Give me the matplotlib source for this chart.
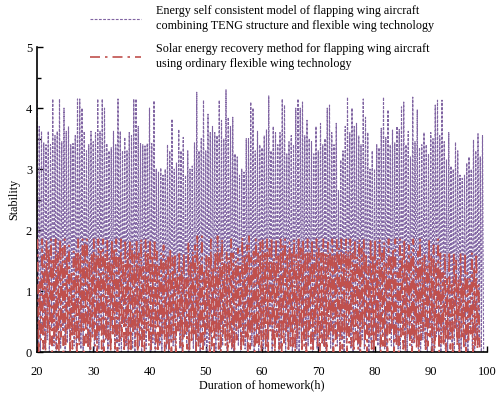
import numpy as np
import matplotlib
matplotlib.use("Agg")
import matplotlib.pyplot as plt
from matplotlib.ticker import MultipleLocator

plt.rcParams['font.family'] = ['Liberation Serif', 'DejaVu Serif']

# peak / trough values of each series, one pair every 0.4 h starting at 20 h
teng_start = 20.0
teng_peaks = [
    4.13, 3.70, 3.62, 3.43, 3.40, 3.62, 3.40, 4.15, 3.55, 3.62,
    4.15, 3.45, 4.00, 3.62, 3.70, 3.40, 3.42, 3.55, 4.15, 4.15,
    4.00, 3.62, 3.30, 3.40, 3.62, 3.45, 3.60, 4.15, 3.62, 4.15,
    4.00, 3.42, 3.30, 3.35, 3.62, 3.40, 4.15, 3.62, 3.30, 3.52,
    3.30, 3.60, 3.55, 4.15, 4.15, 3.70, 3.42, 3.40, 3.38, 3.42,
    4.00, 3.42, 4.12, 3.00, 2.95, 3.02, 2.90, 3.00, 3.40, 3.30,
    3.82, 3.00, 3.10, 3.65, 3.30, 3.52, 2.90, 3.30, 3.00, 3.05,
    3.43, 4.26, 3.30, 3.50, 4.13, 3.30, 3.90, 3.60, 3.70, 3.60,
    3.55, 4.13, 3.80, 3.50, 4.30, 3.85, 3.70, 3.85, 3.25, 3.20,
    2.90, 3.00, 2.95, 3.50, 3.50, 4.10, 4.00, 3.30, 3.62, 3.40,
    3.35, 3.55, 3.65, 4.20, 3.30, 3.70, 3.60, 3.40, 3.60, 4.15,
    4.05, 3.25, 3.45, 3.55, 3.40, 4.00, 4.15, 4.00, 4.10, 3.55,
    3.80, 3.50, 3.45, 3.25, 3.70, 3.30, 3.75, 3.40, 3.50, 4.00,
    4.05, 3.60, 3.40, 3.75, 2.65, 3.15, 3.30, 3.70, 4.18, 3.60,
    4.00, 3.70, 3.75, 3.55, 3.40, 4.15, 3.85, 3.60, 3.00, 3.30,
    3.00, 3.40, 3.35, 3.67, 4.18, 3.52, 3.97, 3.40, 3.64, 3.43,
    3.70, 3.65, 4.02, 4.10, 3.40, 3.62, 3.20, 4.18, 3.45, 3.97,
    3.35, 3.40, 3.60, 3.40, 3.25, 3.60, 3.50, 4.05, 4.13, 3.55,
    4.13, 3.45, 3.15, 3.60, 3.05, 3.00, 3.44, 3.30, 2.90, 2.85,
    2.90, 3.10, 3.20, 3.00, 3.48, 3.30, 3.58, 3.20, 3.55,
]
teng_lows = [
    0.10, 0.00, 0.30, 0.05, 0.20, 0.00, 0.40, 0.10, 0.00, 0.25,
    0.05, 0.35, 0.00, 0.15, 0.00, 0.30, 0.10, 0.00, 0.20, 0.05,
    0.00, 0.40, 0.10, 0.00, 0.25, 0.00, 0.15, 0.05, 0.35, 0.00,
    0.20, 0.00, 0.10, 0.30, 0.00, 0.15, 0.05, 0.00, 0.40, 0.10,
    0.00, 0.25, 0.05, 0.00, 0.30, 0.10, 0.00, 0.20, 0.05, 0.35,
    0.00, 0.15, 0.00, 0.45, 0.10, 0.00, 0.30, 0.05, 0.00, 0.20,
    0.10, 0.00, 0.35, 0.05, 0.00, 0.25, 0.10, 0.00, 0.40, 0.05,
    0.00, 0.20, 0.00, 0.30, 0.10, 0.00, 0.15, 0.05, 0.35, 0.00,
    0.20, 0.00, 0.10, 0.40, 0.00, 0.15, 0.05, 0.00, 0.30, 0.10,
    0.00, 0.25, 0.05, 0.00, 0.35, 0.10, 0.00, 0.20, 0.00, 0.30,
    0.05, 0.00, 0.15, 0.40, 0.00, 0.10, 0.25, 0.00, 0.05, 0.30,
    0.00, 0.20, 0.10, 0.00, 0.35, 0.05, 0.00, 0.15, 0.30, 0.00,
    0.10, 0.40, 0.00, 0.20, 0.05, 0.00, 0.30, 0.10, 0.00, 0.25,
    0.05, 0.00, 0.35, 0.10, 0.00, 0.20, 0.00, 0.15, 0.40, 0.05,
    0.00, 0.30, 0.10, 0.00, 0.20, 0.05, 0.35, 0.00, 0.15, 0.00,
    0.25, 0.10, 0.00, 0.30, 0.05, 0.00, 0.40, 0.10, 0.00, 0.20,
    0.05, 0.00, 0.35, 0.10, 0.00, 0.25, 0.00, 0.15, 0.30, 0.05,
    0.00, 0.20, 0.10, 0.00, 0.40, 0.05, 0.00, 0.25, 0.10, 0.00,
    0.30, 0.05, 0.00, 0.20, 0.15, 0.00, 0.35, 0.05, 0.00, 0.25,
    0.10, 0.00, 0.30, 0.05, 0.00, 0.20, 0.10, 0.00, 0.00,
]

solar_start = 20.1
solar_peaks = [
    1.85, 1.15, 1.85, 1.60, 1.85, 1.70, 1.85, 1.55, 1.85, 1.62,
    1.85, 1.70, 1.85, 1.60, 1.75, 1.30, 1.65, 1.65, 1.85, 1.62,
    1.85, 1.80, 1.85, 1.50, 1.62, 1.85, 1.60, 1.85, 1.70, 1.85,
    1.62, 1.85, 1.55, 1.85, 1.70, 1.85, 1.60, 1.85, 1.50, 1.85,
    1.62, 1.85, 1.75, 1.60, 1.85, 1.62, 1.85, 1.40, 1.85, 1.65,
    1.85, 1.60, 1.85, 1.65, 1.40, 1.62, 1.75, 1.50, 1.60, 1.70,
    1.55, 1.62, 1.30, 1.65, 1.40, 1.62, 1.20, 1.80, 1.50, 1.65,
    1.75, 1.90, 1.50, 1.90, 1.35, 1.60, 1.55, 1.85, 1.40, 1.65,
    1.90, 1.62, 1.85, 1.45, 1.65, 1.55, 1.85, 1.62, 1.50, 1.70,
    1.40, 1.88, 1.60, 1.75, 1.90, 1.55, 1.65, 1.85, 1.62, 1.80,
    1.85, 1.62, 1.85, 1.70, 1.88, 1.55, 1.85, 1.62, 1.85, 1.75,
    1.85, 1.62, 1.80, 1.65, 1.85, 1.60, 1.88, 1.70, 1.85, 1.65,
    1.85, 1.62, 1.85, 1.55, 1.85, 1.70, 1.62, 1.85, 1.60, 1.80,
    1.65, 1.85, 1.62, 1.85, 1.70, 1.85, 1.60, 1.85, 1.65, 1.85,
    1.62, 1.85, 1.55, 1.85, 1.70, 1.85, 1.62, 1.40, 1.85, 1.60,
    1.85, 1.50, 1.85, 1.62, 1.80, 1.45, 1.85, 1.60, 1.70, 1.85,
    1.30, 1.85, 1.62, 1.85, 1.50, 1.75, 1.62, 1.85, 1.40, 1.65,
    1.85, 1.55, 1.62, 1.40, 1.85, 1.60, 1.75, 1.45, 1.85, 1.62,
    1.30, 1.62, 1.20, 1.65, 1.10, 1.62, 1.50, 1.20, 1.62, 1.15,
    1.62, 1.30, 1.20, 1.62, 1.40, 1.62, 1.10,
]
solar_lows = [
    0.00, 0.20, 0.05, 0.00, 0.30, 0.10, 0.00, 0.15, 0.05, 0.00,
    0.25, 0.00, 0.10, 0.35, 0.00, 0.05, 0.20, 0.00, 0.10, 0.30,
    0.00, 0.15, 0.05, 0.00, 0.25, 0.10, 0.00, 0.35, 0.05, 0.00,
    0.20, 0.10, 0.00, 0.30, 0.05, 0.00, 0.15, 0.25, 0.00, 0.10,
    0.05, 0.00, 0.30, 0.10, 0.00, 0.20, 0.05, 0.00, 0.35, 0.10,
    0.00, 0.25, 0.05, 0.00, 0.15, 0.30, 0.00, 0.10, 0.05, 0.00,
    0.20, 0.00, 0.35, 0.10, 0.00, 0.25, 0.05, 0.00, 0.15, 0.30,
    0.00, 0.10, 0.05, 0.00, 0.20, 0.35, 0.00, 0.10, 0.00, 0.25,
    0.05, 0.00, 0.30, 0.10, 0.00, 0.15, 0.05, 0.00, 0.20, 0.35,
    0.00, 0.10, 0.25, 0.00, 0.05, 0.30, 0.00, 0.15, 0.10, 0.00,
    0.20, 0.05, 0.00, 0.35, 0.10, 0.00, 0.25, 0.05, 0.00, 0.15,
    0.30, 0.00, 0.10, 0.05, 0.00, 0.20, 0.35, 0.00, 0.10, 0.00,
    0.25, 0.05, 0.00, 0.30, 0.10, 0.00, 0.15, 0.05, 0.00, 0.20,
    0.35, 0.00, 0.10, 0.25, 0.00, 0.05, 0.30, 0.00, 0.15, 0.10,
    0.00, 0.20, 0.05, 0.00, 0.35, 0.10, 0.00, 0.25, 0.05, 0.00,
    0.15, 0.30, 0.00, 0.10, 0.05, 0.00, 0.20, 0.35, 0.00, 0.10,
    0.00, 0.25, 0.05, 0.00, 0.30, 0.10, 0.00, 0.15, 0.05, 0.00,
    0.20, 0.35, 0.00, 0.10, 0.25, 0.00, 0.05, 0.30, 0.00, 0.15,
    0.10, 0.00, 0.20, 0.05, 0.00, 0.35, 0.10, 0.00, 0.25, 0.05,
    0.00, 0.15, 0.30, 0.00, 0.10, 0.05, 0.00,
]
step = 0.4

label_teng = ("Energy self consistent model of flapping wing aircraft\n"
              "combining TENG structure and flexible wing technology")
label_solar = ("Solar energy recovery method for flapping wing aircraft\n"
               "using ordinary flexible wing technology")


def zigzag(start, peaks, lows):
    xs, ys = [], []
    for i, (p, q) in enumerate(zip(peaks, lows)):
        xs += [start + i * step, start + i * step + step / 2]
        ys += [p, q]
    return xs, ys


tx, ty = zigzag(teng_start, teng_peaks, teng_lows)
sx, sy = zigzag(solar_start, solar_peaks, solar_lows)

fig = plt.figure(figsize=(5.0, 3.96), dpi=100)
ax = fig.add_axes([0.074, 0.111, 0.9, 0.77])

l1, = ax.plot(tx, ty, color='#8064a2', lw=0.8, linestyle=(0, (2.5, 1.3)),
              zorder=2)
l2, = ax.plot(sx, sy, color='#c0504d', lw=1.2, linestyle=(0, (6, 3, 1.5, 3)),
              zorder=3)

ax.set_xlim(20, 100)
ax.set_ylim(0, 5)
ax.xaxis.set_major_locator(MultipleLocator(10))
ax.yaxis.set_major_locator(MultipleLocator(1))
ax.yaxis.set_minor_locator(MultipleLocator(0.5))
ax.tick_params(direction='in', labelsize=9, length=4, width=1)
ax.tick_params(which='minor', direction='in', length=3, width=1)
ax.tick_params(axis='x', pad=10)
for s in ['top', 'right']:
    ax.spines[s].set_visible(False)
for s in ['left', 'bottom']:
    ax.spines[s].set_linewidth(1.2)

ax.set_xlabel('Duration of homework(h)', fontsize=8.7, labelpad=1)
ax.set_ylabel('Stability', fontsize=8.7, labelpad=4)

leg = fig.legend([l1, l2], [label_teng, label_solar], loc='upper left',
                 bbox_to_anchor=(0.18, 0.988), frameon=False, fontsize=8.7,
                 handlelength=4.2, handletextpad=1.3, labelspacing=0.9,
                 borderpad=0, borderaxespad=0)
for t in leg.get_texts():
    t.set_linespacing(1.35)

fig.savefig('out.png', dpi=100)
